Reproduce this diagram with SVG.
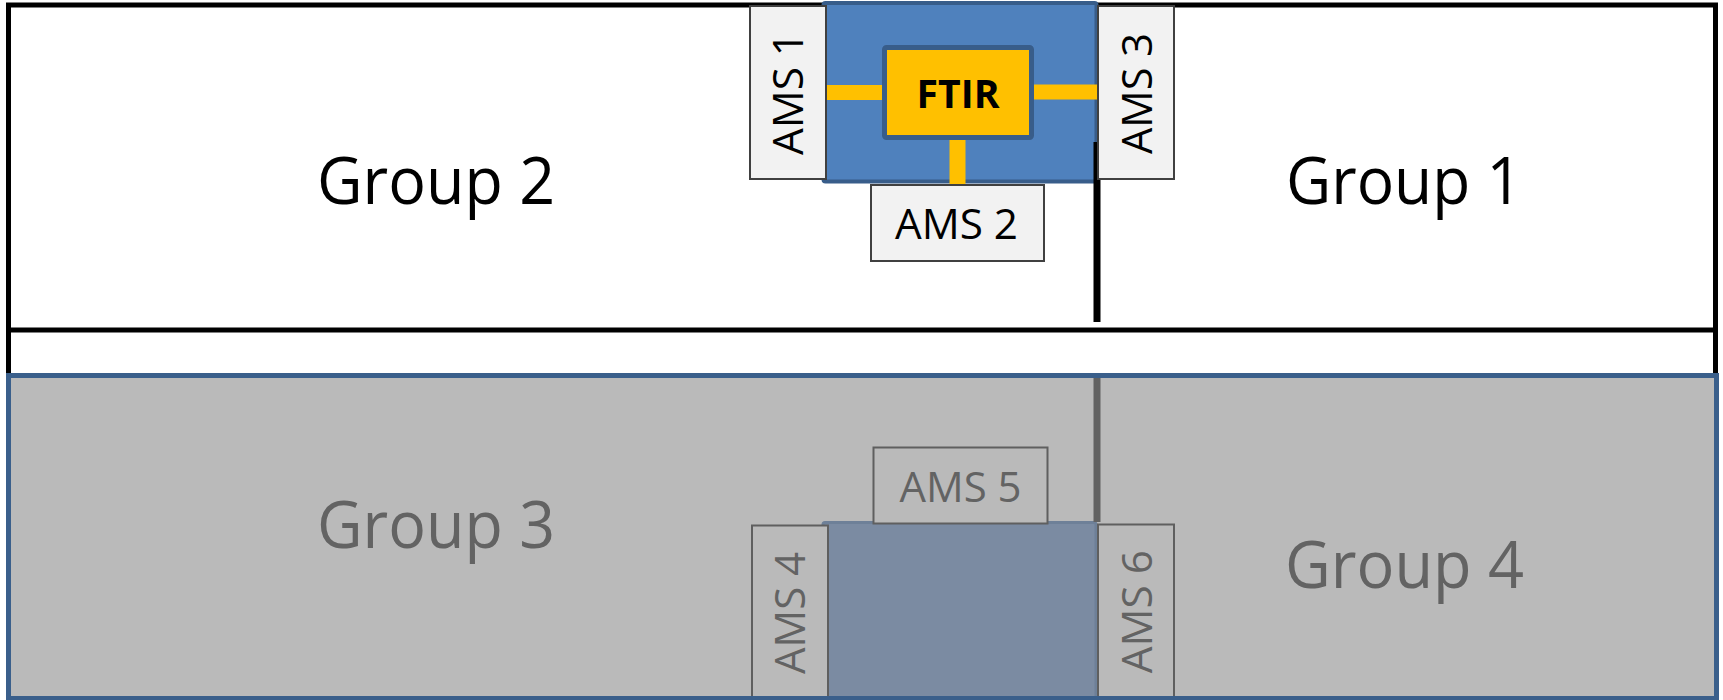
<svg xmlns="http://www.w3.org/2000/svg" width="1723" height="700" viewBox="0 0 1723 700">
<style>
  .grp { font-family: "Open Sans", "Liberation Sans", sans-serif; font-size: 65px; text-anchor: middle; }
  .ams { font-family: "Open Sans", "Liberation Sans", sans-serif; font-size: 42px; text-anchor: middle; }
  .top { fill: #000000; }
  .bot { fill: #636363; }
  .amsbox { fill: #f2f2f2; stroke: #404040; stroke-width: 2; }
  .amsbox2 { fill: #bababa; stroke: #5f5f5f; stroke-width: 2; }
  .yl { fill: #ffc000; }
</style>
<rect x="0" y="0" width="1723" height="700" fill="#ffffff"/>
<g id="frame">
  <rect x="8.5" y="5" width="1707" height="693" fill="#ffffff" stroke="#000000" stroke-width="5"/>
  <line x1="8.5" y1="330" x2="1715.5" y2="330" stroke="#000000" stroke-width="5"/>
</g>
<g id="lower-area">
  <rect x="8.5" y="375.5" width="1708" height="323" fill="#bababa"/>
</g>
<g id="chamber-top">
  <rect x="823.5" y="3" width="273" height="178.5" rx="2" fill="#4f81bd" stroke="#385d8a" stroke-width="4"/>
</g>
<g id="chamber-bottom">
  <rect x="823" y="522.5" width="273" height="180" rx="2" fill="#7b8ba2" stroke="#6e8098" stroke-width="3"/>
</g>
<g id="connectors">
  <line x1="1097" y1="142" x2="1097" y2="322" stroke="#000000" stroke-width="7"/>
  <line x1="1097" y1="377" x2="1097" y2="522" stroke="#626262" stroke-width="7"/>
  <rect class="yl" x="825" y="85" width="58" height="15"/>
  <rect class="yl" x="1032" y="84.5" width="65" height="15"/>
  <rect class="yl" x="949.5" y="138" width="16" height="47"/>
</g>
<g id="ftir">
  <rect x="884.5" y="47.5" width="147" height="90" rx="2" fill="#ffc000" stroke="#385d8a" stroke-width="5"/>
  <text x="958" y="108" font-family="Open Sans, Liberation Sans, sans-serif" font-size="40" font-weight="bold" text-anchor="middle" fill="#000000" textLength="83" lengthAdjust="spacingAndGlyphs">FTIR</text>
</g>
<g id="ams1">
  <rect class="amsbox" x="750" y="6" width="76" height="173"/>
  <text class="ams top" transform="translate(803,93.5) rotate(-90)" textLength="123" lengthAdjust="spacingAndGlyphs">AMS 1</text>
</g>
<g id="ams3">
  <rect class="amsbox" x="1098" y="6" width="76" height="173"/>
  <text class="ams top" transform="translate(1151.5,93.5) rotate(-90)" textLength="121" lengthAdjust="spacingAndGlyphs">AMS 3</text>
</g>
<g id="ams2">
  <rect class="amsbox" x="871" y="185" width="173" height="76"/>
  <text class="ams top" x="956.5" y="239" textLength="123" lengthAdjust="spacingAndGlyphs">AMS 2</text>
</g>
<g id="ams5">
  <rect class="amsbox2" x="873.5" y="447.5" width="174" height="76"/>
  <text class="ams bot" x="960.5" y="501.5" textLength="122" lengthAdjust="spacingAndGlyphs">AMS 5</text>
</g>
<g id="ams4">
  <rect class="amsbox2" x="752" y="525.5" width="76" height="180"/>
  <text class="ams bot" transform="translate(805,613) rotate(-90)" textLength="122" lengthAdjust="spacingAndGlyphs">AMS 4</text>
</g>
<g id="ams6">
  <rect class="amsbox2" x="1098" y="524.5" width="76" height="180"/>
  <text class="ams bot" transform="translate(1152,611.7) rotate(-90)" textLength="123" lengthAdjust="spacingAndGlyphs">AMS 6</text>
</g>
<g id="lower-border">
  <rect x="8.5" y="375.5" width="1708" height="323" fill="none" stroke="#3a5f8b" stroke-width="5"/>
</g>
<g id="group2"><text class="grp top" x="436" y="204" textLength="238" lengthAdjust="spacingAndGlyphs">Group 2</text></g>
<g id="group1"><text class="grp top" x="1404" y="204" textLength="236" lengthAdjust="spacingAndGlyphs">Group 1</text></g>
<g id="group3"><text class="grp bot" x="436" y="548" textLength="238" lengthAdjust="spacingAndGlyphs">Group 3</text></g>
<g id="group4"><text class="grp bot" x="1404.5" y="588" textLength="239" lengthAdjust="spacingAndGlyphs">Group 4</text></g>
</svg>
